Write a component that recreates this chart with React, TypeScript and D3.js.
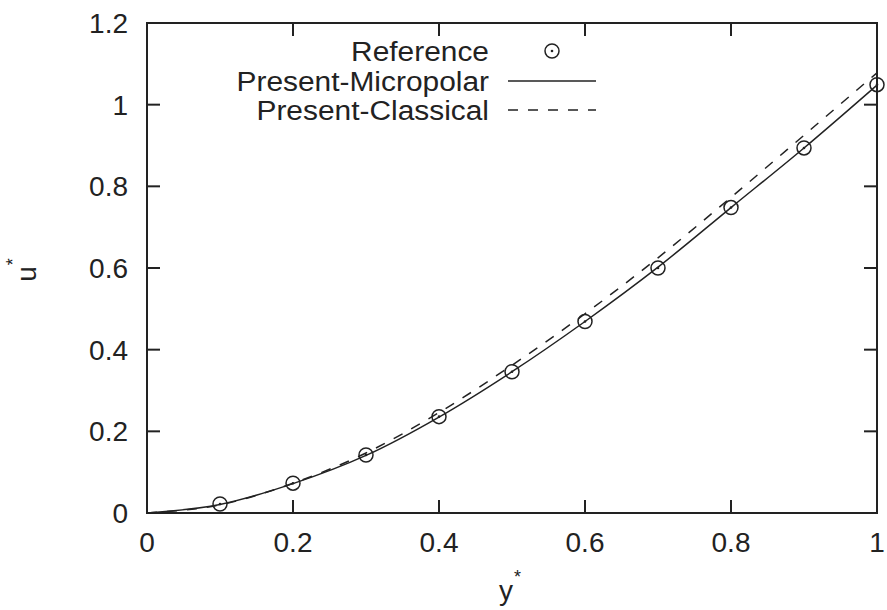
import React from "react";
import * as d3 from "d3";

const refX = [0.1, 0.2, 0.3, 0.4, 0.5, 0.6, 0.7, 0.8, 0.9, 1.0];
const refU = [0.022, 0.073, 0.142, 0.236, 0.346, 0.469, 0.6, 0.748, 0.894, 1.049];

const lineX = [0, 0.1, 0.2, 0.3, 0.4, 0.5, 0.6, 0.7, 0.8, 0.9, 1.0];
const micropolarU = [0, 0.021, 0.072, 0.141, 0.235, 0.346, 0.469, 0.602, 0.748, 0.894, 1.048];
const classicalU = [0, 0.02, 0.073, 0.147, 0.246, 0.362, 0.488, 0.625, 0.773, 0.925, 1.078];

const xTicks = [0, 0.2, 0.4, 0.6, 0.8, 1];
const yTicks = [0, 0.2, 0.4, 0.6, 0.8, 1, 1.2];
const xTickLabels = ["0", "0.2", "0.4", "0.6", "0.8", "1"];
const yTickLabels = ["0", "0.2", "0.4", "0.6", "0.8", "1", "1.2"];

const legendLabels = ["Reference", "Present-Micropolar", "Present-Classical"];

const W = 887;
const H = 610;
const left = 147;
const right = 877;
const top = 23;
const bottom = 513;
const FONT = "'Liberation Sans', Arial, Helvetica, sans-serif";
const INK = "#222";

export default function App() {
  const x = d3.scaleLinear().domain([0, 1]).range([left, right]);
  const y = d3.scaleLinear().domain([0, 1.2]).range([bottom, top]);
  const mkLine = (vals: number[]) =>
    d3
      .line<number>()
      .x((_, i) => x(lineX[i]))
      .y((d) => y(d))
      .curve(d3.curveMonotoneX)(vals) || "";
  const microPath = mkLine(micropolarU);
  const classPath = mkLine(classicalU);
  const tick = 13;
  const fs = 28;
  const legTextX = 489;
  const legY = [51, 81, 110];
  const legSample = [508, 596];

  return (
    <svg
      width={W}
      height={H}
      style={{ position: "absolute", left: 0, top: 0, background: "#fff" }}
      fontFamily={FONT}
    >
      <rect x={0} y={0} width={W} height={H} fill="#fff" />
      {xTicks.map((t, i) => (
        <g key={"xt" + i}>
          {i > 0 && i < xTicks.length - 1 && (
            <>
              <line x1={x(t)} x2={x(t)} y1={bottom} y2={bottom - tick} stroke={INK} strokeWidth={2} />
              <line x1={x(t)} x2={x(t)} y1={top} y2={top + tick} stroke={INK} strokeWidth={2} />
            </>
          )}
          <text x={x(t)} y={bottom + 39} textAnchor="middle" fontSize={fs} fill={INK}>
            {xTickLabels[i]}
          </text>
        </g>
      ))}
      {yTicks.map((t, i) => (
        <g key={"yt" + i}>
          {i > 0 && i < yTicks.length - 1 && (
            <>
              <line x1={left} x2={left + tick} y1={y(t)} y2={y(t)} stroke={INK} strokeWidth={2} />
              <line x1={right} x2={right - tick} y1={y(t)} y2={y(t)} stroke={INK} strokeWidth={2} />
            </>
          )}
          <text x={128} y={y(t) + 10} textAnchor="end" fontSize={fs} fill={INK}>
            {yTickLabels[i]}
          </text>
        </g>
      ))}
      <rect x={left} y={top} width={right - left} height={bottom - top} fill="none" stroke={INK} strokeWidth={2} />

      <path d={classPath} fill="none" stroke={INK} strokeWidth={1.5} strokeDasharray="10,10" />
      <path d={microPath} fill="none" stroke={INK} strokeWidth={1.5} />
      {refX.map((v, i) => (
        <g key={"r" + i}>
          <circle cx={x(v)} cy={y(refU[i])} r={7} fill="none" stroke={INK} strokeWidth={1.5} />
          <circle cx={x(v)} cy={y(refU[i])} r={1.3} fill={INK} />
        </g>
      ))}

      {legendLabels.map((l, i) => (
        <text
          key={"l" + i}
          transform={`translate(${legTextX},${legY[i] + 10}) scale(1.068,1)`}
          textAnchor="end"
          fontSize={fs}
          fill={INK}
        >
          {l}
        </text>
      ))}
      <circle cx={(legSample[0] + legSample[1]) / 2} cy={legY[0]} r={7} fill="none" stroke={INK} strokeWidth={1.5} />
      <circle cx={(legSample[0] + legSample[1]) / 2} cy={legY[0]} r={1.3} fill={INK} />
      <line x1={legSample[0]} x2={legSample[1]} y1={legY[1]} y2={legY[1]} stroke={INK} strokeWidth={1.5} />
      <line x1={legSample[0]} x2={legSample[1]} y1={legY[2]} y2={legY[2]} stroke={INK} strokeWidth={1.5} strokeDasharray="10,10" />

      <g transform="translate(36,270) rotate(-90)">
        <text x={0} y={0} textAnchor="middle" fontSize={fs} fill={INK}>
          u
          <tspan dy={-17} dx={1} fontSize={18}>*</tspan>
        </text>
      </g>
      <text x={510} y={600} textAnchor="middle" fontSize={fs} fill={INK}>
        y
        <tspan dy={-17} dx={1} fontSize={18}>*</tspan>
      </text>
    </svg>
  );
}
